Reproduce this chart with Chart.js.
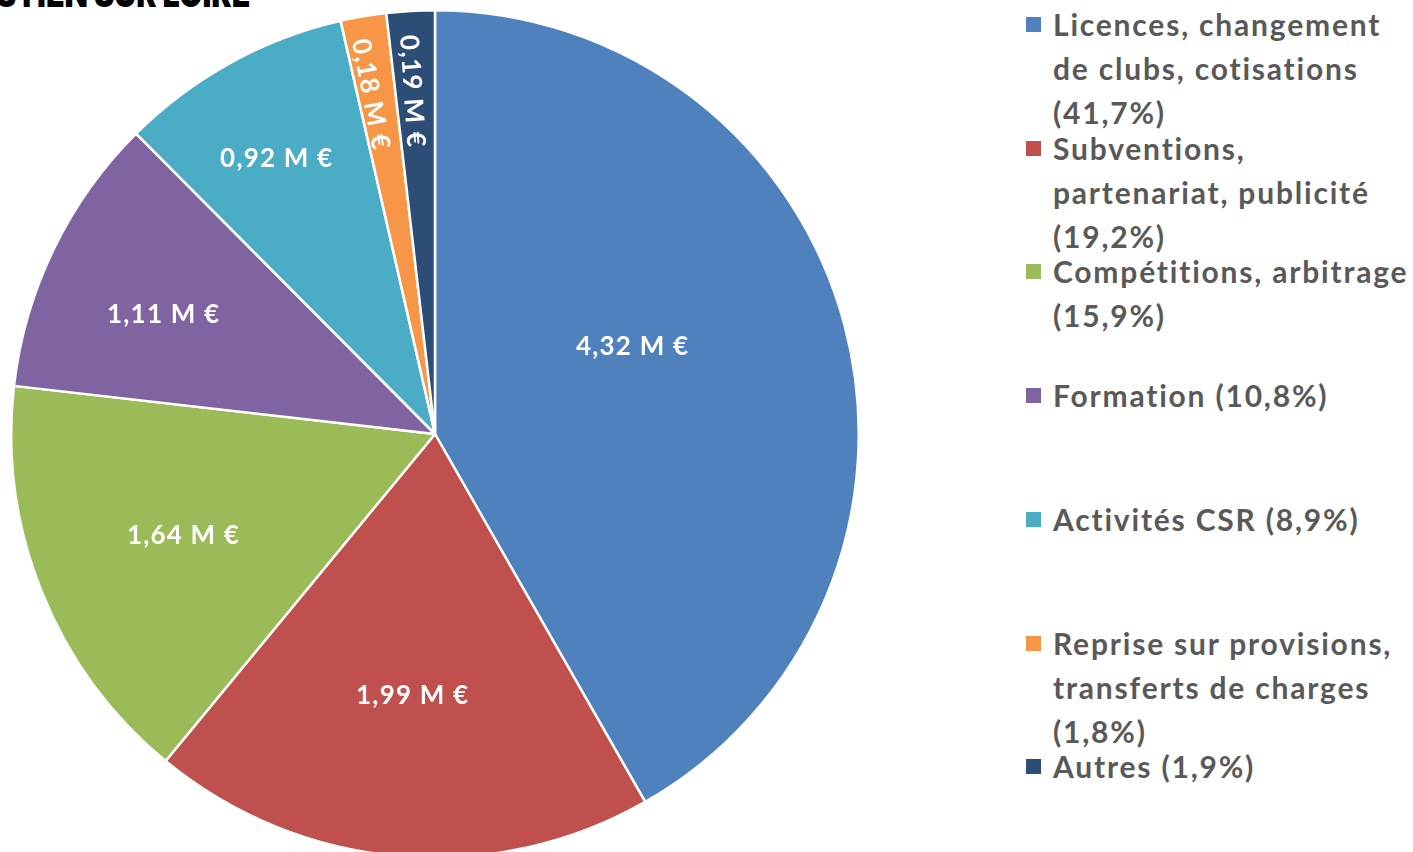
<!DOCTYPE html>
<html>
<head>
<meta charset="utf-8">
<script src="https://cdn.jsdelivr.net/npm/chart.js@4"></script>
<style>
  html, body { margin: 0; padding: 0; background: #ffffff; width: 1413px; height: 852px; overflow: hidden; position: relative; }
  #title { position: absolute; left: -4px; top: -30px; font-family: Inter, "DejaVu Sans", sans-serif; font-weight: 900; font-size: 38px; color: #000; letter-spacing: 0px; white-space: nowrap; transform: scaleX(0.8); transform-origin: 0 0; }
  #pieBox { position: absolute; left: 10px; top: 9px; width: 850px; height: 850px; }
  #legend { position: absolute; left: 1022px; top: 0; width: 391px; font-family: Lato, "Open Sans", sans-serif; font-weight: 700; font-size: 30px; color: #595959; letter-spacing: 1.8px; }
  .item { position: absolute; left: 0; width: 391px; }
  .sw { position: absolute; left: 4px; top: 15px; width: 15px; height: 15px; }
  .txt { position: absolute; left: 31px; width: 365px; line-height: 44px; }
</style>
</head>
<body>
<div id="title">STIEN SUR LOIRE</div>
<div id="pieBox"><canvas id="c"></canvas></div>
<div id="legend"></div>
<script>
// ---- data ----
const categories = [
  'Licences, changement de clubs, cotisations',
  'Subventions, partenariat, publicité',
  'Compétitions, arbitrage',
  'Formation',
  'Activités CSR',
  'Reprise sur provisions, transferts de charges',
  'Autres'
];
const valuesMEuro = [4.32, 1.99, 1.64, 1.11, 0.92, 0.18, 0.19];
const shareLabels = ['41,7%', '19,2%', '15,9%', '10,8%', '8,9%', '1,8%', '1,9%'];
const valueLabels = ['4,32 M €', '1,99 M €', '1,64 M €', '1,11 M €', '0,92 M €', '0,18 M €', '0,19 M €'];
const sliceColors = ['#4F81BD', '#C0504D', '#9BBB59', '#8064A2', '#4BACC6', '#F79646', '#2C4D75'];

// ---- label layout hints (style, not data) ----
const labelRadiusFrac = [0.51, 0.62, 0.64, 0.70, 0.75, 0.815, 0.81];
const labelAngleShiftDeg = [-9, 0, 0, -2, -1, -1, -0.5];

// legend (HTML)
const legend = document.getElementById('legend');
const slotTop = 2, slotPitch = 123.7;
categories.forEach((cat, i) => {
  const it = document.createElement('div');
  it.className = 'item';
  it.style.top = (slotTop + i * slotPitch) + 'px';
  const sw = document.createElement('div');
  sw.className = 'sw';
  sw.style.background = sliceColors[i];
  const tx = document.createElement('div');
  tx.className = 'txt';
  tx.textContent = cat + ' (' + shareLabels[i] + ')';
  it.appendChild(sw); it.appendChild(tx);
  legend.appendChild(it);
});

const sliceLabels = {
  id: 'sliceLabels',
  afterDatasetsDraw(chart) {
    const ctx = chart.ctx;
    const meta = chart.getDatasetMeta(0);
    const total = valuesMEuro.reduce((a, b) => a + b, 0);
    ctx.save();
    ctx.fillStyle = '#ffffff';
    ctx.font = '700 26px Lato, "Open Sans", sans-serif';
    if ('letterSpacing' in ctx) ctx.letterSpacing = '1.2px';
    ctx.textAlign = 'center';
    ctx.textBaseline = 'middle';
    meta.data.forEach((arc, i) => {
      const p = arc.getProps(['x', 'y', 'startAngle', 'endAngle', 'outerRadius'], true);
      const mid = (p.startAngle + p.endAngle) / 2 + labelAngleShiftDeg[i] * Math.PI / 180;
      const r = p.outerRadius * labelRadiusFrac[i];
      const x = p.x + Math.cos(mid) * r;
      const y = p.y + Math.sin(mid) * r;
      ctx.save();
      ctx.translate(x, y);
      if (valuesMEuro[i] / total < 0.03) {
        ctx.rotate(mid + Math.PI);
      }
      ctx.fillText(valueLabels[i], 0, 0);
      ctx.restore();
    });
    ctx.restore();
  }
};

new Chart(document.getElementById('c'), {
  type: 'pie',
  data: {
    labels: categories,
    datasets: [{
      data: valuesMEuro,
      backgroundColor: sliceColors,
      borderColor: '#ffffff',
      borderWidth: 2.5
    }]
  },
  options: {
    responsive: true,
    maintainAspectRatio: false,
    animation: false,
    layout: { padding: 0 },
    plugins: {
      legend: { display: false },
      tooltip: { enabled: false }
    }
  },
  plugins: [sliceLabels]
});
</script>
</body>
</html>
